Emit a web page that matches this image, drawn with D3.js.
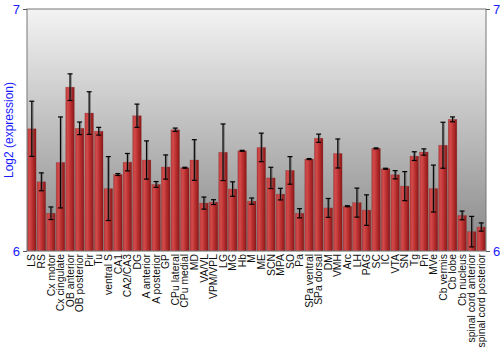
<!DOCTYPE html>
<html lang="en">
<head>
<meta charset="utf-8">
<title>Log2 expression by region</title>
<script src="https://cdn.jsdelivr.net/npm/d3@7"></script>
<style>
  body { margin: 0; background: white; }
  svg { display: block; }
</style>
</head>
<body>
<div id="chart"></div>
<script>
// regions
var regions = ["LS","RS","Cx motor","Cx cingulate","OB anterior","OB posterior","Pir","Tu",
  "ventral S","CA1","CA2/CA3","DG","A anterior","A posterior","GP","CPu lateral","CPu medial",
  "MD","VA/VL","VPM/VPL","LG","MG","Hb","M","ME","SCN","MPA","SO","Pa","SPa ventral",
  "SPa dorsal","DM","VMH","Arc","LH","PAG","SC","IC","VTA","SN","Tg","Pn","MVe",
  "Cb vermis","Cb lobe","Cb nucleus","spinal cord anterior","spinal cord posterior"];

// mean log2 expression
var means = [6.505,6.286,6.156,6.366,6.677,6.507,6.570,6.495,
  6.258,6.316,6.367,6.559,6.376,6.275,6.347,6.501,6.344,
  6.376,6.198,6.202,6.408,6.256,6.414,6.206,6.428,6.302,6.235,6.333,6.156,6.380,
  6.466,6.178,6.403,6.185,6.200,6.169,6.424,6.340,6.315,6.268,6.392,6.409,6.258,
  6.437,6.544,6.147,6.080,6.099];

// error (+/-)
var errs = [0.114,0.037,0.026,0.188,0.055,0.026,0.088,0.016,
  0.132,0.004,0.036,0.048,0.079,0.012,0.050,0.007,0.002,
  0.084,0.025,0.010,0.117,0.030,0.002,0.013,0.059,0.044,0.024,0.057,0.019,0.002,
  0.017,0.039,0.060,0.002,0.060,0.063,0.002,0.002,0.017,0.060,0.018,0.013,0.097,
  0.095,0.010,0.018,0.063,0.017];

var yTicks = [6, 7];

var W = 500, H = 350;
var margin = {top: 9, right: 14, bottom: 99, left: 27};
var width = W - margin.left - margin.right,
    height = H - margin.top - margin.bottom;

var svg = d3.select("#chart").append("svg")
  .attr("width", W).attr("height", H);

var defs = svg.append("defs");
var bg = defs.append("linearGradient").attr("id", "bg")
  .attr("x1", 0).attr("y1", 0).attr("x2", 0).attr("y2", 1);
bg.append("stop").attr("offset", "0%").attr("stop-color", "#f3f3f3");
bg.append("stop").attr("offset", "100%").attr("stop-color", "#888888");

var bar = defs.append("linearGradient").attr("id", "bar")
  .attr("x1", 0).attr("y1", 0).attr("x2", 1).attr("y2", 0);
bar.append("stop").attr("offset", "0%").attr("stop-color", "#b83a3a");
bar.append("stop").attr("offset", "25%").attr("stop-color", "#d24a4a");
bar.append("stop").attr("offset", "60%").attr("stop-color", "#b82e2e");
bar.append("stop").attr("offset", "100%").attr("stop-color", "#8a1818");

var g = svg.append("g").attr("transform", "translate(" + margin.left + "," + margin.top + ")");

var x = d3.scaleBand().domain(regions).range([0, width]).paddingInner(0.1).paddingOuter(0.05);
var y = d3.scaleLinear().domain([6, 7]).range([height, 0]);

g.append("rect").attr("width", width).attr("height", height).attr("fill", "url(#bg)");

var data = regions.map(function(r, i) { return {name: r, v: means[i], e: errs[i]}; });

g.selectAll("rect.bar")
  .data(data)
  .enter().append("rect")
  .attr("class", "bar")
  .attr("x", function(d) { return x(d.name); })
  .attr("y", function(d) { return y(d.v); })
  .attr("width", x.bandwidth())
  .attr("height", function(d) { return height - y(d.v); })
  .attr("fill", "url(#bar)")
  .attr("stroke", "rgba(120,40,40,0.35)")
  .attr("stroke-width", 0.6);

// error bars: grey shadow then black line
var eb = g.selectAll("g.err").data(data).enter().append("g").attr("class", "err")
  .attr("transform", function(d) { return "translate(" + (x(d.name) + x.bandwidth() / 2) + ",0)"; });

eb.append("line")
  .attr("x1", 0.5).attr("x2", 0.5)
  .attr("y1", function(d) { return y(d.v + d.e); })
  .attr("y2", function(d) { return y(d.v - d.e); })
  .attr("stroke", "rgba(90,90,90,0.6)").attr("stroke-width", 2.5);
eb.append("line")
  .attr("x1", 0).attr("x2", 0)
  .attr("y1", function(d) { return y(d.v + d.e); })
  .attr("y2", function(d) { return y(d.v - d.e); })
  .attr("stroke", "#000").attr("stroke-width", 1);
eb.selectAll("line.cap")
  .data(function(d) { return [d.v + d.e, d.v - d.e]; })
  .enter().append("line").attr("class", "cap")
  .attr("x1", -2.5).attr("x2", 2.5)
  .attr("y1", function(v) { return y(v); })
  .attr("y2", function(v) { return y(v); })
  .attr("stroke", "#000").attr("stroke-width", 1.2);

// frame
g.append("rect").attr("width", width).attr("height", height)
  .attr("fill", "none").attr("stroke", "#777").attr("stroke-width", 1);

// y axes left and right
var yl = g.append("g").call(d3.axisLeft(y).tickValues(yTicks).tickSize(4).tickFormat(d3.format("d")));
var yr = g.append("g").attr("transform", "translate(" + width + ",0)")
  .call(d3.axisRight(y).tickValues(yTicks).tickSize(4).tickFormat(d3.format("d")));
[yl, yr].forEach(function(a) {
  a.select(".domain").remove();
  a.selectAll("line").attr("stroke", "#555");
  a.selectAll("text").attr("fill", "#1a1aff").style("font-family", "Liberation Sans, Arial, sans-serif")
    .style("font-size", "13px");
});

// x labels
g.append("g").attr("transform", "translate(0," + height + ")")
  .selectAll("text").data(regions).enter().append("text")
  .attr("transform", function(d) { return "translate(" + (x(d) + x.bandwidth() / 2 + 3.7) + ",3) rotate(-90)"; })
  .attr("text-anchor", "end")
  .style("font-family", "Liberation Sans, Arial, sans-serif")
  .style("font-size", "10.4px")
  .attr("fill", "#111")
  .text(function(d) { return d; });

svg.append("text")
  .attr("transform", "translate(13," + (margin.top + height / 2) + ") rotate(-90)")
  .attr("text-anchor", "middle")
  .style("font-family", "Liberation Sans, Arial, sans-serif")
  .style("font-size", "12px")
  .attr("fill", "#1a1aff")
  .text("Log2 (expression)");
</script>
</body>
</html>
